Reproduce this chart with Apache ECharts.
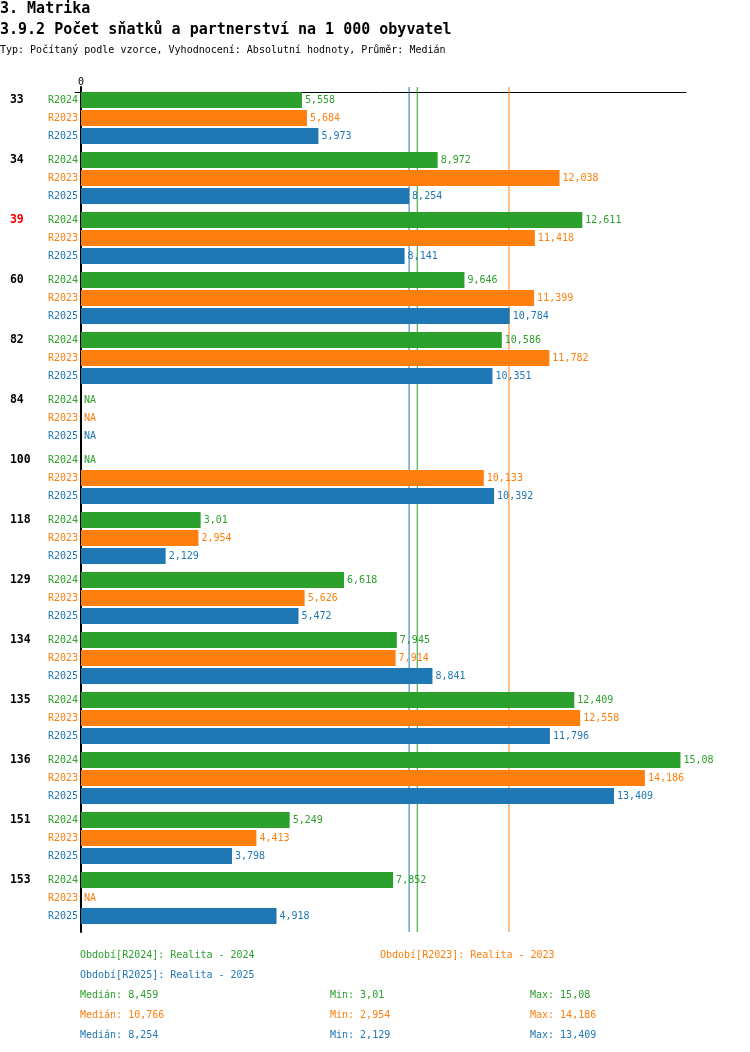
<!DOCTYPE html>
<html lang="cs">
<head>
    <meta charset="UTF-8">
    <title>3.9.2 Počet sňatků a partnerství na 1 000 obyvatel</title>
    <style>
        html, body {
            margin: 0;
            padding: 0;
            background: #ffffff;
        }

        #chart {
            width: 750px;
            height: 1052px;
        }
    </style>
</head>
<body>
<div id="chart"></div>
<script src="https://cdn.jsdelivr.net/npm/echarts@6/dist/echarts.min.js"></script>
<script type="text/javascript">
    // data (null = NA)
    const groups = ['33', '34', '39', '60', '82', '84', '100', '118', '129', '134', '135', '136', '151', '153'];
    const highlightGroup = '39';
    const periods = ['R2024', 'R2023', 'R2025'];
    const periodNames = ['Realita - 2024', 'Realita - 2023', 'Realita - 2025'];
    const valuesR2024 = [5.558, 8.972, 12.611, 9.646, 10.586, null, null, 3.01, 6.618, 7.945, 12.409, 15.08, 5.249, 7.852];
    const valuesR2023 = [5.684, 12.038, 11.418, 11.399, 11.782, null, 10.133, 2.954, 5.626, 7.914, 12.558, 14.186, 4.413, null];
    const valuesR2025 = [5.973, 8.254, 8.141, 10.784, 10.351, null, 10.392, 2.129, 5.472, 8.841, 11.796, 13.409, 3.798, 4.918];
    const medians = [8.459, 10.766, 8.254];
    const mins = [3.01, 2.954, 2.129];
    const maxs = [15.08, 14.186, 13.409];

    const setting = {
        colorList: ['#2ca02c', '#ff7f0e', '#1f77b4'],
        font: '"DejaVu Sans Mono", "Liberation Mono", monospace',
        xMax: 15.22,
        xMinBars: -0.151   // lets the top axis line start a little left of 0
    };

    const allValues = [valuesR2024, valuesR2023, valuesR2025];
    const fmt = v => String(v).replace('.', ',');

    let series = [];
    periods.forEach((p, i) => {
        const color = setting.colorList[i];
        // zero bar only carrying the row label on the left
        series.push({
            type: 'bar',
            name: p + '-label',
            stack: p,
            xAxisIndex: 1,
            yAxisIndex: 1,
            z: 3,
            barWidth: 16,
            barGap: '12.5%',
            silent: true,
            data: groups.map(() => 0),
            itemStyle: {color: color},
            label: {
                show: true,
                position: 'left',
                distance: 3,
                fontFamily: setting.font,
                fontSize: 10,
                color: color,
                formatter: pr => {
                    if (i !== 0) return '{s|' + p + '}';
                    const key = pr.name === highlightGroup ? 'r' : 'g';
                    return '{' + key + '|' + pr.name + '}{s|' + p + '}';
                },
                rich: {
                    g: {width: 38, align: 'left', fontFamily: setting.font, fontSize: 11.5, fontWeight: 'bold', color: '#000'},
                    r: {width: 38, align: 'left', fontFamily: setting.font, fontSize: 11.5, fontWeight: 'bold', color: '#ff0000'},
                    s: {fontFamily: setting.font, fontSize: 10, color: color}
                }
            }
        });
        // the value bar
        series.push({
            type: 'bar',
            name: p,
            stack: p,
            xAxisIndex: 1,
            yAxisIndex: 1,
            z: 3,
            barWidth: 16,
            barGap: '12.5%',
            data: allValues[i].map(v => v === null ? {value: 0, label: {formatter: 'NA'}} : v),
            itemStyle: {color: color},
            label: {
                show: true,
                position: 'right',
                distance: 3,
                fontFamily: setting.font,
                fontSize: 10,
                color: color,
                formatter: pr => fmt(pr.value)
            }
        });
        // median line, full height of the first grid, behind the bars
        series.push({
            type: 'line',
            name: p + '-median',
            xAxisIndex: 0,
            yAxisIndex: 0,
            z: 1,
            silent: true,
            showSymbol: false,
            data: [[medians[i], 0], [medians[i], 1]],
            lineStyle: {color: color, width: 1},
            itemStyle: {color: color}
        });
    });
    // spacer column so the three bars sit at the top of each band
    series.push({
        type: 'bar',
        name: 'pad',
        stack: 'pad',
        xAxisIndex: 1,
        yAxisIndex: 1,
        barWidth: 6,
        barGap: '12.5%',
        silent: true,
        data: groups.map(() => 0),
        itemStyle: {color: 'transparent'}
    });

    // footer texts
    let footer = [];
    const txt = (x, y, text, color) => ({
        type: 'text',
        left: x,
        top: y,
        style: {text: text, fill: color, font: '10px ' + setting.font}
    });
    footer.push(txt(80, 950, 'Období[' + periods[0] + ']: ' + periodNames[0], setting.colorList[0]));
    footer.push(txt(380, 950, 'Období[' + periods[1] + ']: ' + periodNames[1], setting.colorList[1]));
    footer.push(txt(80, 970, 'Období[' + periods[2] + ']: ' + periodNames[2], setting.colorList[2]));
    periods.forEach((p, i) => {
        const y = 990 + i * 20;
        const c = setting.colorList[i];
        footer.push(txt(80, y, 'Medián: ' + fmt(medians[i]), c));
        footer.push(txt(330, y, 'Min: ' + fmt(mins[i]), c));
        footer.push(txt(530, y, 'Max: ' + fmt(maxs[i]), c));
    });

    const titleStyle = {fontFamily: setting.font, fontSize: 15, fontWeight: 'bold', color: '#000'};

    let myChart = echarts.init(document.getElementById('chart'));
    myChart.setOption({
        animation: false,
        backgroundColor: '#ffffff',
        title: [
            {text: '3. Matrika', left: 0, top: 2, padding: 0, textStyle: titleStyle},
            {text: '3.9.2 Počet sňatků a partnerství na 1 000 obyvatel', left: 0, top: 23, padding: 0, textStyle: titleStyle},
            {
                text: 'Typ: Počítaný podle vzorce, Vyhodnocení: Absolutní hodnoty, Průměr: Medián',
                left: 0, top: 45, padding: 0,
                textStyle: {fontFamily: setting.font, fontSize: 10, fontWeight: 'normal', color: '#000'}
            }
        ],
        grid: [
            {left: 81, right: 64, top: 87, bottom: 120},
            {left: 75, right: 64, top: 92, bottom: 120}
        ],
        xAxis: [
            {type: 'value', gridIndex: 0, min: 0, max: setting.xMax, show: false},
            {
                type: 'value',
                gridIndex: 1,
                position: 'top',
                min: setting.xMinBars,
                max: setting.xMax,
                axisLine: {show: true, lineStyle: {color: '#000', width: 1}},
                axisTick: {show: false},
                splitLine: {show: false},
                axisLabel: {
                    margin: 5,
                    fontFamily: setting.font,
                    fontSize: 10,
                    color: '#000',
                    formatter: v => v === 0 ? '0' : ''
                }
            }
        ],
        yAxis: [
            {
                type: 'value',
                gridIndex: 0,
                min: 0,
                max: 1,
                axisLine: {show: true, lineStyle: {color: '#000', width: 2}},
                axisTick: {show: false},
                axisLabel: {show: false},
                splitLine: {show: false}
            },
            {
                type: 'category',
                gridIndex: 1,
                data: groups,
                inverse: true,
                axisLine: {show: false},
                axisTick: {show: false},
                axisLabel: {show: false},
                splitLine: {show: false}
            }
        ],
        graphic: footer,
        series: series
    });
</script>
</body>
</html>
